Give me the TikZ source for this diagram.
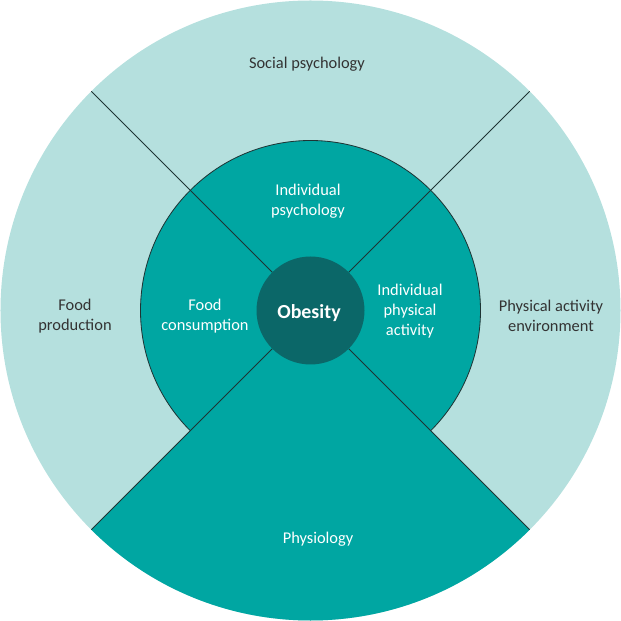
\documentclass[tikz,border=0pt]{standalone}
\usepackage{fontspec}
\setmainfont{Carlito}
\usepackage{tikz}
\definecolor{ringlight}{HTML}{B5E0DE}
\definecolor{ringmid}{HTML}{00A6A2}
\definecolor{coredark}{HTML}{0B6768}
\definecolor{rule}{HTML}{1E3434}
\tikzstyle{outerlabel} = [align=center, text=black!80, font=\fontsize{14}{17}\selectfont]
\tikzstyle{innerlabel} = [align=center, text=white, font=\fontsize{14}{17}\selectfont]
\tikzstyle{corelabel} = [align=center, text=white, font=\fontsize{17}{20}\selectfont\bfseries]
\tikzstyle{divider} = [draw=rule, line width=0.7pt]

\begin{document}
\begin{tikzpicture}[x=0.03cm, y=0.03cm]
	\useasboundingbox (-310.5,-310.5) rectangle (310.5,310.5);
	% outer ring
	\fill [ringlight] (0,0) circle (310);
	\fill [ringmid] (0,0) -- (225:310) arc [start angle=225, end angle=315, radius=310] -- cycle;
	% middle ring
	\fill [ringmid] (0,0) circle (170);
	\draw [divider] (315:170) arc [start angle=-45, end angle=225, radius=170];
	% dividers
	\foreach \ang in {45, 135, 225, 315}
		\draw [divider] (\ang:54) -- (\ang:310);
	% core
	\fill [coredark] (0,0) circle (54);

	\node (social) [outerlabel] at (-3.5,246.5) {Social psychology};
	\node (foodprod) [outerlabel] at (-235.5,-6) {Food\\production};
	\node (paenv) [outerlabel] at (240.5,-5) {Physical activity\\environment};
	\node (indpsych) [innerlabel] at (-2.5,109) {Individual\\psychology};
	\node (foodcons) [innerlabel] at (-105.5,-6) {Food\\consumption};
	\node (indpa) [innerlabel] at (99.5,-0.5) {Individual\\physical\\activity};
	\node (physio) [innerlabel] at (7.5,-228.5) {Physiology};
	\node (obesity) [corelabel] at (-1.5,-2.5) {Obesity};
\end{tikzpicture}
\end{document}
